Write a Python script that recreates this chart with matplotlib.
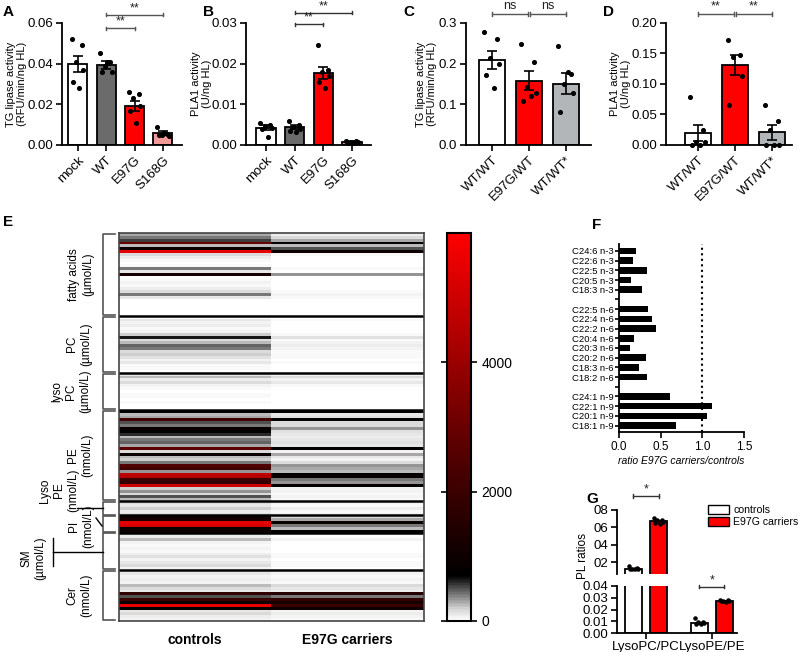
import numpy as np
import matplotlib
matplotlib.use("Agg")
import matplotlib.pyplot as plt
from matplotlib.colors import LinearSegmentedColormap
from matplotlib.patches import Patch

plt.rcParams['font.family'] = ['Liberation Sans', 'DejaVu Sans']

# ---------------- DATA ----------------
ab_cats = ["mock", "WT", "E97G", "S168G"]
a_means = [0.0400, 0.0395, 0.0190, 0.0060]
a_errs = [0.0040, 0.0020, 0.0025, 0.0008]
a_pts = [[0.052, 0.049, 0.041, 0.037, 0.031, 0.028],
         [0.045, 0.041, 0.039, 0.036, 0.036, 0.041],
         [0.026, 0.025, 0.023, 0.019, 0.0165, 0.011],
         [0.009, 0.0055, 0.005, 0.0045, 0.005, 0.006]]
b_means = [0.0043, 0.0044, 0.0177, 0.0008]
b_errs = [0.0005, 0.0005, 0.0015, 0.0001]
b_pts = [[0.0055, 0.0050, 0.0047, 0.0042, 0.0040, 0.0020],
         [0.0058, 0.0048, 0.0045, 0.0040, 0.0035, 0.0033],
         [0.0245, 0.0185, 0.0180, 0.0170, 0.0155, 0.0140],
         [0.0010, 0.0009, 0.0008, 0.0007, 0.0006, 0.0006]]
cd_cats = ["WT/WT", "E97G/WT", "WT/WT*"]
c_means = [0.210, 0.158, 0.151]
c_errs = [0.022, 0.023, 0.025]
c_pts = [[0.278, 0.260, 0.215, 0.200, 0.172, 0.139],
         [0.248, 0.203, 0.142, 0.127, 0.108, 0.120],
         [0.244, 0.175, 0.150, 0.127, 0.081, 0.180]]
d_means = [0.019, 0.131, 0.021]
d_errs = [0.013, 0.016, 0.012]
d_pts = [[0.079, 0.025, 0.005, 0.005, 0.0, 0.0],
         [0.172, 0.148, 0.145, 0.113, 0.066],
         [0.066, 0.040, 0.025, 0.0, 0.0, 0.0]]

# heatmap sections (controls, E97G carriers)
sec_names = ["fatty acids\n(µmol/L)", "PC\n(µmol/L)", "lyso\nPC\n(µmol/L)", "PE\n(nmol/L)",
             "Lyso\nPE\n(nmol/L)", "PI\n(nmol/L)", "SM\n(µmol/L)", "Cer\n(nmol/L)"]
fa_ctrl = [300, 400, 550, 3000, 250, 1000, 5500, 150, 80, 30, 20, 40, 400, 100, 1200,
           20, 40, 60, 30, 80, 150, 400, 100, 10, 10, 10, 10, 10, 10]
fa_carr = [80, 150, 300, 900, 250, 500, 1000, 40, 20, 10, 10, 10, 30, 20, 350,
           10, 10, 10, 10, 10, 40, 70, 30, 5, 5, 5, 5, 5, 5]
pc_ctrl = [40, 100, 60, 80, 40, 60, 200, 650, 150, 250, 450, 400, 150, 200, 120, 60, 100, 40, 30, 20]
pc_carr = [10, 30, 20, 20, 10, 15, 40, 130, 40, 60, 80, 60, 30, 40, 30, 20, 30, 10, 10, 10]
lpc_ctrl = [100, 250, 80, 150, 60, 30, 20, 30, 40, 20, 30, 20, 20]
lpc_carr = [60, 150, 50, 100, 40, 20, 10, 20, 20, 10, 20, 10, 10]
pe_ctrl = [900, 250, 300, 2200, 500, 420, 900, 700, 600, 250, 400, 450, 300, 2800, 150, 900,
           250, 200, 400, 2500, 2200, 350, 4800, 4500, 2000, 1800, 5000, 200, 350, 150, 500, 250]
pe_carr = [700, 100, 120, 700, 150, 150, 350, 120, 100, 80, 100, 120, 100, 750, 60, 300,
           100, 60, 150, 350, 300, 250, 800, 900, 400, 350, 800, 60, 60, 40, 50, 40]
lpe_ctrl = [150, 100, 200, 80, 120]
lpe_carr = [50, 40, 80, 40, 50]
pi_ctrl = [1100, 1200, 5500, 5200, 900, 1000]
pi_carr = [150, 300, 900, 400, 250, 700]
sm_ctrl = [60, 80, 250, 50, 40, 60, 30, 80, 120, 60, 100, 150, 60]
sm_carr = [20, 20, 60, 20, 10, 20, 10, 30, 40, 20, 30, 40, 20]
cer_ctrl = [60, 100, 50, 80, 60, 250, 150, 100, 1800, 500, 2000, 1000, 5500, 800, 100, 150, 80, 60]
cer_carr = [40, 60, 30, 50, 40, 150, 100, 80, 1500, 400, 1800, 1200, 2000, 1000, 60, 80, 50, 40]
hm_cols = ["controls", "E97G carriers"]

f_labels = ["C24:6 n-3", "C22:6 n-3", "C22:5 n-3", "C20:5 n-3", "C18:3 n-3", "",
            "C22:5 n-6", "C22:4 n-6", "C22:2 n-6", "C20:4 n-6", "C20:3 n-6", "C20:2 n-6",
            "C18:3 n-6", "C18:2 n-6", "", "C24:1 n-9", "C22:1 n-9", "C20:1 n-9", "C18:1 n-9"]
f_values = [0.20, 0.17, 0.34, 0.145, 0.27, np.nan, 0.35, 0.39, 0.44, 0.18, 0.13, 0.32,
            0.24, 0.33, np.nan, 0.61, 1.11, 1.06, 0.68]

g_groups = ["LysoPC/PC", "LysoPE/PE"]
g_ctrl = [0.125, 0.0088]
g_ctrl_err = [0.008, 0.0008]
g_carr = [0.67, 0.0272]
g_carr_err = [0.015, 0.0004]
g_ctrl_pts = [[0.15, 0.13, 0.125, 0.12, 0.12, 0.115], [0.0125, 0.0095, 0.009, 0.0085, 0.008, 0.0075]]
g_carr_pts = [[0.71, 0.69, 0.68, 0.66, 0.65, 0.64], [0.0285, 0.028, 0.0275, 0.027, 0.027, 0.0265]]

# ---------------- LAYOUT ----------------
W, H = 800, 652
fig = plt.figure(figsize=(W / 100, H / 100), dpi=100)


def add_ax(l, t, r, b):
    return fig.add_axes([l / W, 1 - b / H, (r - l) / W, (b - t) / H])


jit = [-0.2, 0.15, -0.05, 0.2, -0.15, 0.05]
RED = '#ff0000'


def style(ax, ls=9.5):
    for s in ['top', 'right']:
        ax.spines[s].set_visible(False)
    for s in ['left', 'bottom']:
        ax.spines[s].set_linewidth(1.3)
    ax.tick_params(width=1.2, length=4, labelsize=ls, pad=2.5)


def bar_panel(box, cats, means, errs, pts, colors, xlim, ylim, yticks, yfmt, ylabel, width, labx):
    ax = add_ax(*box)
    x = np.arange(len(cats))
    ax.bar(x, means, width=width, color=colors, edgecolor='black', linewidth=1.3, zorder=2)
    ax.errorbar(x, means, yerr=errs, fmt='none', ecolor='black', elinewidth=1.2,
                capsize=3.5, capthick=1.2, zorder=3)
    for i, p in enumerate(pts):
        ax.scatter(i + np.array(jit[:len(p)]), p, s=7, color='black', zorder=4, clip_on=False)
    ax.set_xlim(*xlim)
    ax.set_ylim(*ylim)
    ax.set_yticks(yticks)
    ax.set_yticklabels([yfmt.format(v) for v in yticks])
    ax.set_xticks(x)
    style(ax)
    ax.set_xticklabels(cats, rotation=45, ha='right', rotation_mode='anchor', fontsize=9.5)
    ax.set_ylabel(ylabel, fontsize=8, linespacing=1.15)
    ax.yaxis.set_label_coords(labx, 0.5)
    return ax


def sig(ax, x1, x2, y, txt, color='#555555', dy=0.0, tick=0.0):
    ax.plot([x1, x2], [y, y], color=color, lw=1, clip_on=False)
    for xx in (x1, x2):
        ax.plot([xx, xx], [y - tick, y + tick], color=color, lw=1, clip_on=False)
    ax.text((x1 + x2) / 2, y + dy, txt, ha='center', va='bottom', fontsize=9, color='#222222')


tg_lab = "TG lipase activity\n(RFU/min/ng HL)"
pla_lab = "PLA1 activity\n(U/ng HL)"

axA = bar_panel((62, 23, 182, 145), ab_cats, a_means, a_errs, a_pts,
                ['white', '#6b6b6b', RED, '#f29a9a'], (-0.55, 3.67), (0, 0.06),
                [0, 0.02, 0.04, 0.06], "{:.2f}", tg_lab, 0.67, -0.29)
sig(axA, 1, 2, 0.0574, "**", dy=0.0003, tick=0.0008)
sig(axA, 1, 3, 0.0640, "**", dy=0.0003, tick=0.0008)

axB = bar_panel((246, 23, 371, 145), ab_cats, b_means, b_errs, b_pts,
                ['white', '#6b6b6b', RED, '#f29a9a'], (-0.70, 3.66), (0, 0.03),
                [0, 0.01, 0.02, 0.03], "{:.2f}", pla_lab, 0.67, -0.27)
sig(axB, 1, 2, 0.0297, "**", color='#333333', dy=0.00015, tick=0.0004)
sig(axB, 1, 3, 0.0325, "**", color='#333333', dy=0.00015, tick=0.0004)

axC = bar_panel((466, 23, 591, 145), cd_cats, c_means, c_errs, c_pts,
                ['white', RED, '#b3b6b8'], (-0.70, 2.68), (0, 0.3),
                [0, 0.1, 0.2, 0.3], "{:.1f}", tg_lab, 0.7, -0.23)
sig(axC, 0, 0.97, 0.322, "ns", dy=0.004, tick=0.005)
sig(axC, 1.03, 2, 0.322, "ns", dy=0.004, tick=0.005)

axD = bar_panel((666, 23, 792, 145), cd_cats, d_means, d_errs, d_pts,
                ['white', RED, '#b3b6b8'], (-0.86, 2.54), (0, 0.2),
                [0, 0.05, 0.10, 0.15, 0.20], "{:.2f}", pla_lab, 0.7, -0.28)
sig(axD, 0, 0.97, 0.215, "**", dy=0.002, tick=0.0035)
sig(axD, 1.03, 2, 0.215, "**", dy=0.002, tick=0.0035)

# ---------------- E heatmap ----------------
sections = [(fa_ctrl, fa_carr), (pc_ctrl, pc_carr), (lpc_ctrl, lpc_carr), (pe_ctrl, pe_carr),
            (lpe_ctrl, lpe_carr), (pi_ctrl, pi_carr), (sm_ctrl, sm_carr), (cer_ctrl, cer_carr)]
hm = np.vstack([np.column_stack([np.array(c), np.array(e)]) for c, e in sections])
nrows = hm.shape[0]
cmap = LinearSegmentedColormap.from_list(
    'hm', [(0, '#ffffff'), (0.03, '#d2d2d2'), (0.07, '#707070'), (0.115, '#000000'),
           (0.45, '#5a0000'), (1.0, '#ff0000')])
axE = add_ax(119, 233, 424, 621)
im = axE.imshow(hm, cmap=cmap, vmin=0, vmax=6000, aspect='auto', interpolation='nearest',
                extent=(0, 2, nrows, 0))
bounds = np.cumsum([len(c) for c, e in sections])
for bnd in bounds[:-1]:
    axE.axhline(bnd, color='black', lw=1.8)
axE.set_xticks([0.5, 1.5])
axE.set_xticklabels(hm_cols, fontsize=10, fontweight='bold')
axE.tick_params(length=0, pad=9)
axE.set_yticks([])
for s in axE.spines.values():
    s.set_linewidth(1.2)
    s.set_color('#444444')

# brackets + labels
starts = np.concatenate([[0], bounds[:-1]])
bx0, bx1 = (103 - 119) / 305, (115 - 119) / 305
lab_x = [81, 79, 71, 80, 59, 81, 33, 79]     # text centre in px
lab_dy = [0, 0, 0, 0, -18, 2, 7, 0]          # px shift of label vs section middle
trE = axE.get_yaxis_transform()
for k, (s0, s1) in enumerate(zip(starts, bounds)):
    y0, y1 = s0 + 0.3, s1 - 0.3
    axE.plot([bx1, bx0, bx0, bx1], [y0, y0, y1, y1], color='#555555', lw=1.2,
             transform=trE, clip_on=False)
    ymid_px = 233 + (s0 + s1) / 2 / nrows * (621 - 233) + lab_dy[k]
    fig.text(lab_x[k] / W, 1 - ymid_px / H, sec_names[k], rotation=90, ha='center',
             va='center', multialignment='center', fontsize=8.5, linespacing=1.2)

# leader lines for small sections (px overlay)
ov = fig.add_axes([0, 0, 1, 1], facecolor='none')
ov.set_xlim(0, W)
ov.set_ylim(H, 0)
ov.axis('off')
ov.plot([53, 103], [552, 552], color='black', lw=1)
ov.plot([53, 53], [538, 566], color='black', lw=1)
ov.plot([77, 103], [508, 508], color='black', lw=1)
ov.plot([96, 102], [518, 526], color='black', lw=1)

# colorbar
cax = add_ax(447, 233, 471, 621)
cb = fig.colorbar(im, cax=cax, ticks=[0, 2000, 4000])
cb.outline.set_linewidth(1.5)
cax.yaxis.set_ticks_position('both')
cax.tick_params(labelsize=10, width=1.2, length=4, labelleft=False, labelright=True)

# ---------------- F ----------------
axF = add_ax(619, 244, 744, 432)
ypos = np.arange(len(f_labels))
fv = np.array(f_values)
ok = ~np.isnan(fv)
axF.barh(ypos[ok], fv[ok], height=0.68, color='black')
axF.set_ylim(len(f_labels) - 0.34, -0.72)
axF.set_xlim(0, 1.5)
axF.set_yticks(ypos)
axF.set_yticklabels(f_labels)
axF.set_xticks([0, 0.5, 1.0, 1.5])
axF.set_xticklabels(["0.0", "0.5", "1.0", "1.5"])
axF.axvline(1.0, color='black', ls=':', lw=1.5)
axF.set_xlabel("ratio E97G carriers/controls", fontsize=7.5, style='italic', labelpad=2)
style(axF, ls=8.5)
axF.tick_params(axis='y', length=3, pad=1, labelsize=6.8)

# ---------------- G ----------------
gx = np.arange(len(g_groups))
off, bw = 0.19, 0.26
axGt = add_ax(617, 510, 737, 574)
axGb = add_ax(617, 586, 737, 633)
for ax in (axGt, axGb):
    ax.bar(gx - off, g_ctrl, width=bw, color='white', edgecolor='black', linewidth=1.3, zorder=2)
    ax.bar(gx + off, g_carr, width=bw, color=RED, edgecolor='black', linewidth=1.3, zorder=2)
    ax.errorbar(gx - off, g_ctrl, yerr=g_ctrl_err, fmt='none', ecolor='black', capsize=2, lw=1, zorder=3)
    ax.errorbar(gx + off, g_carr, yerr=g_carr_err, fmt='none', ecolor='black', capsize=2, lw=1, zorder=3)
    for i in range(len(g_groups)):
        jj = np.array(jit[:len(g_ctrl_pts[i])]) * 0.35
        ax.scatter(i - off + jj, g_ctrl_pts[i], s=5, color='black', zorder=4)
        ax.scatter(i + off + jj, g_carr_pts[i], s=5, color='black', zorder=4)
    ax.set_xlim(-0.44, 1.38)
    style(ax, ls=9.5)
axGt.set_ylim(0.062, 0.8)
axGt.set_yticks([0.2, 0.4, 0.6, 0.8])
axGt.set_yticklabels(["02", "04", "06", "08"])
axGt.spines['bottom'].set_visible(False)
axGt.set_xticks([])
axGb.set_ylim(0, 0.04)
axGb.set_yticks([0, 0.01, 0.02, 0.03, 0.04])
axGb.set_yticklabels(["0.00", "0.01", "0.02", "0.03", "0.04"])
axGb.set_xticks(gx)
axGb.set_xticklabels(g_groups, fontsize=9.5)
axGb.tick_params(axis='x', pad=2)
sig(axGt, -off, off, 0.96, "*", color='#333333', dy=0.005, tick=0.025)
sig(axGb, 1 - off, 1 + off, 0.0395, "*", color='#333333', dy=0.0005, tick=0.0012)
fig.text(583 / W, 1 - 556 / H, "PL ratios", rotation=90, ha='center', va='center', fontsize=8.5)
fig.legend(handles=[Patch(facecolor='white', edgecolor='black', label='controls'),
                    Patch(facecolor=RED, edgecolor='black', label='E97G carriers')],
           loc='upper left', bbox_to_anchor=(708 / W, 1 - 505 / H), frameon=False,
           fontsize=7.6, handlelength=2.0, handleheight=0.9, borderpad=0, labelspacing=0.2,
           handletextpad=0.4, borderaxespad=0)

# panel letters
for txt, (px, py) in zip("ABCDEFG", [(3, 12), (203, 12), (403, 12), (603, 12), (3, 222),
                                      (592, 225), (586, 499)]):
    fig.text(px / W, 1 - py / H, txt, fontsize=11, fontweight='bold', va='center')

fig.savefig("out.png", dpi=100)
